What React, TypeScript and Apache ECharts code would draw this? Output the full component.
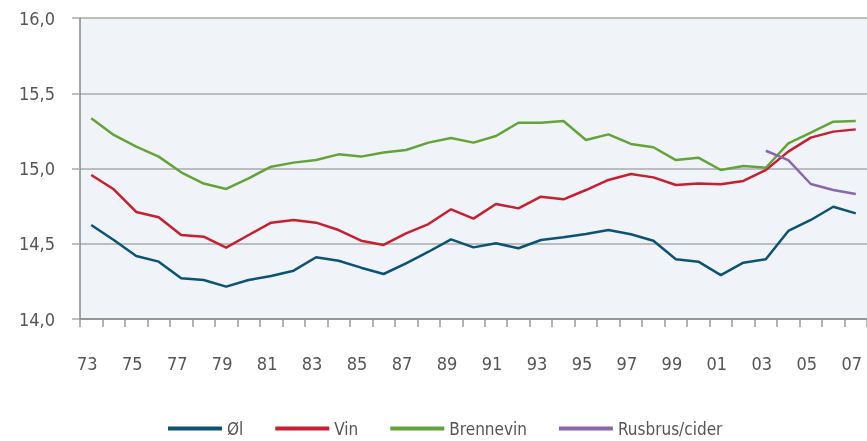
import React, { useEffect, useRef } from "react";
import * as echarts from "echarts";

const years: string[] = [
  "73","74","75","76","77","78","79","80","81","82","83","84","85","86","87","88","89","90",
  "91","92","93","94","95","96","97","98","99","00","01","02","03","04","05","06","07",
];

const ol: number[] = [
  14.625, 14.525, 14.419, 14.381, 14.27, 14.259, 14.215, 14.259, 14.286, 14.321,
  14.41, 14.387, 14.341, 14.299, 14.37, 14.447, 14.529, 14.476, 14.503, 14.47,
  14.525, 14.543, 14.565, 14.591, 14.563, 14.52, 14.397, 14.381, 14.292, 14.374,
  14.397, 14.585, 14.658, 14.746, 14.702,
];

const vin: number[] = [
  14.957, 14.862, 14.711, 14.676, 14.558, 14.547, 14.474, 14.558, 14.64, 14.658,
  14.64, 14.591, 14.52, 14.492, 14.569, 14.631, 14.729, 14.667, 14.764, 14.735,
  14.813, 14.795, 14.857, 14.924, 14.963, 14.941, 14.89, 14.901, 14.895, 14.917,
  14.99, 15.112, 15.205, 15.245, 15.26,
];

const brennevin: number[] = [
  15.334, 15.223, 15.145, 15.079, 14.975, 14.9, 14.864, 14.935, 15.012, 15.039,
  15.056, 15.094, 15.079, 15.107, 15.123, 15.172, 15.203, 15.172, 15.216, 15.304,
  15.304, 15.316, 15.189, 15.227, 15.163, 15.141, 15.056, 15.072, 14.99, 15.017,
  15.005, 15.167, 15.238, 15.311, 15.316,
];

const rusbrus: (number | null)[] = [
  null, null, null, null, null, null, null, null, null, null,
  null, null, null, null, null, null, null, null, null, null,
  null, null, null, null, null, null, null, null, null, null,
  15.118, 15.056, 14.897, 14.857, 14.831,
];

const yTicks: number[] = [14.0, 14.5, 15.0, 15.5, 16.0];

const FONT = "'Liberation Sans Narrow', 'DejaVu Sans Condensed', 'Roboto', sans-serif";
const TEXT = "#555555";

export default function App() {
  const ref = useRef<HTMLDivElement>(null);
  useEffect(() => {
    if (!ref.current) return;
    const chart = echarts.init(ref.current, undefined, { renderer: "svg" });
    const mk = (name: string, data: (number | null)[], color: string) => ({
      name,
      type: "line",
      data,
      symbol: "none",
      showSymbol: false,
      lineStyle: { color, width: 2.5 },
      itemStyle: { color },
      connectNulls: false,
    });
    chart.setOption({
      animation: false,
      textStyle: { fontFamily: FONT },
      grid: {
        left: 80,
        top: 18,
        right: -7,
        bottom: 122,
        show: true,
        backgroundColor: "#f0f4f8",
        borderWidth: 0,
      },
      legend: {
        top: 415,
        left: 163,
        itemWidth: 54,
        itemHeight: 4,
        itemGap: 32,
        icon: "rect",
        textStyle: { color: TEXT, fontSize: 17, fontFamily: FONT },
        data: ["Øl", "Vin", "Brennevin", "Rusbrus/cider"],
      },
      xAxis: {
        type: "category",
        data: years,
        boundaryGap: true,
        axisLine: { lineStyle: { color: "#888888", width: 1.5 } },
        axisTick: { show: true, interval: 0, length: 8, lineStyle: { color: "#999999", width: 1.5 } },
        axisLabel: {
          interval: 1,
          color: TEXT,
          fontSize: 18,
          fontFamily: FONT,
          margin: 35,
          padding: [0, 8, 0, 0],
        },
        splitLine: { show: false },
      },
      yAxis: {
        type: "value",
        min: yTicks[0],
        max: yTicks[yTicks.length - 1],
        interval: 0.5,
        axisLine: { show: true, lineStyle: { color: "#888888", width: 1.5 } },
        axisTick: { show: true, length: 8, lineStyle: { color: "#aaaaaa", width: 1.5 } },
        axisLabel: {
          color: TEXT,
          fontSize: 18,
          fontFamily: FONT,
          margin: 25,
          formatter: (v: number) => v.toFixed(1).replace(".", ","),
        },
        splitLine: { show: true, lineStyle: { color: "#aaaaaa", width: 1.5 } },
      },
      series: [
        mk("Øl", ol, "#0b5273"),
        mk("Vin", vin, "#c51f30"),
        mk("Brennevin", brennevin, "#62a43a"),
        mk("Rusbrus/cider", rusbrus, "#8a67ad"),
      ],
    });
    return () => chart.dispose();
  }, []);
  return (
    <div
      ref={ref}
      style={{ position: "fixed", left: 0, top: 0, width: 867, height: 441 }}
    />
  );
}
